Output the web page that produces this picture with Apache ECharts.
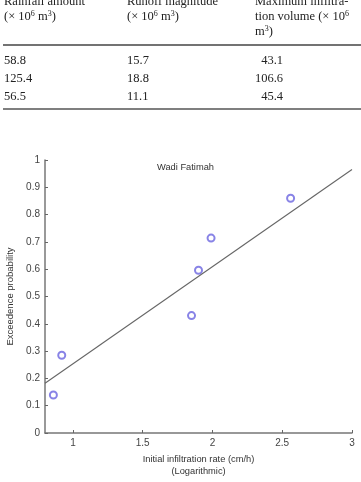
<!DOCTYPE html>
<html>
<head>
<meta charset="utf-8">
<script src="https://cdn.jsdelivr.net/npm/echarts@6/dist/echarts.min.js"></script>
<style>
  html, body { margin: 0; padding: 0; background: #fff; }
  #chart { width: 361px; height: 482px; }
</style>
</head>
<body>
<div id="chart"></div>
<script>
// Table above the chart (top is cropped in the source)
const tableRainfall = ["58.8", "125.4", "56.5"];
const tableRunoff = ["15.7", "18.8", "11.1"];
const tableInfiltration = ["43.1", "106.6", "45.4"];

// Scatter points: initial infiltration rate vs exceedence probability
const infiltrationRate = [0.86, 0.92, 1.85, 1.90, 1.99, 2.56];
const exceedence = [0.139, 0.285, 0.430, 0.596, 0.714, 0.860];

// Fitted line end points
const fitX = [0.8, 3.0];
const fitY = [0.182, 0.965];

const xTicks = [1, 1.5, 2, 2.5, 3];

let chart = echarts.init(document.getElementById("chart"));

const serif = "Liberation Serif";
const rich = {
  n: { fontFamily: serif, fontSize: 12.5, color: "#222" },
  s: { fontFamily: serif, fontSize: 8, color: "#222", verticalAlign: "top", padding: [0, 0, 6, 0] }
};

function tableText(x, y, text, align) {
  return {
    type: "text",
    x: x,
    y: y,
    style: {
      text: text,
      align: align || "left",
      verticalAlign: "middle",
      rich: rich,
      font: "12.5px " + serif,
      fill: "#222"
    }
  };
}

let graphics = [];
// header rows
graphics.push(tableText(4, 2, "{n|Rainfall amount}"));
graphics.push(tableText(127, 2, "{n|Runoff magnitude}"));
graphics.push(tableText(255, 2, "{n|Maximum infiltra-}"));
graphics.push(tableText(4, 17, "{n|(× 10}{s|6}{n| m}{s|3}{n|)}"));
graphics.push(tableText(127, 17, "{n|(× 10}{s|6}{n| m}{s|3}{n|)}"));
graphics.push(tableText(255, 17, "{n|tion volume (× 10}{s|6}"));
graphics.push(tableText(255, 32, "{n|m}{s|3}{n|)}"));
// rules
graphics.push({ type: "line", shape: { x1: 3, y1: 45, x2: 361, y2: 45 }, style: { stroke: "#444", lineWidth: 1.6 } });
graphics.push({ type: "line", shape: { x1: 3, y1: 109, x2: 361, y2: 109 }, style: { stroke: "#555", lineWidth: 1.4 } });
// data rows
for (let i = 0; i < tableRainfall.length; i++) {
  let y = 61 + i * 18;
  graphics.push(tableText(4, y, "{n|" + tableRainfall[i] + "}"));
  graphics.push(tableText(127, y, "{n|" + tableRunoff[i] + "}"));
  graphics.push(tableText(283, y, "{n|" + tableInfiltration[i] + "}", "right"));
}

const axisFont = "Liberation Sans";

let option = {
  animation: false,
  backgroundColor: "#fff",
  title: {
    text: "Wadi Fatimah",
    left: 157,
    top: 163,
    padding: 0,
    textStyle: { fontFamily: axisFont, fontSize: 9.3, fontWeight: "normal", color: "#333" }
  },
  grid: { left: 45, right: 9, top: 160, bottom: 49, outerBoundsMode: "none", containLabel: false },
  xAxis: {
    type: "value",
    min: 0.8,
    max: 3,
    name: "Initial infiltration rate (cm/h)\n(Logarithmic)",
    nameLocation: "middle",
    nameGap: 20,
    nameTextStyle: { fontFamily: axisFont, fontSize: 9.3, color: "#333", lineHeight: 12 },
    axisLine: { lineStyle: { color: "#777", width: 1.5 } },
    axisTick: { inside: true, length: 3, customValues: xTicks, lineStyle: { color: "#666" } },
    axisLabel: {
      customValues: xTicks,
      fontFamily: axisFont, fontSize: 10, color: "#444", margin: 5
    },
    splitLine: { show: false }
  },
  yAxis: {
    type: "value",
    min: 0,
    max: 1,
    interval: 0.1,
    name: "Exceedence probability",
    nameLocation: "middle",
    nameRotate: 90,
    nameGap: 26,
    nameTextStyle: { fontFamily: axisFont, fontSize: 9.5, color: "#333" },
    axisLine: { show: true, lineStyle: { color: "#777", width: 1.5 } },
    axisTick: { show: true, inside: true, length: 3, lineStyle: { color: "#666" } },
    axisLabel: {
      fontFamily: axisFont, fontSize: 10, color: "#444", margin: 5,
      formatter: function (v) { return String(Math.round(v * 10) / 10); }
    },
    splitLine: { show: false }
  },
  series: [
    {
      type: "line",
      data: fitX.map((x, i) => [x, fitY[i]]),
      symbol: "none",
      lineStyle: { color: "#666", width: 1.1 },
      silent: true
    },
    {
      type: "scatter",
      data: infiltrationRate.map((x, i) => [x, exceedence[i]]),
      symbol: "emptyCircle",
      symbolSize: 7,
      itemStyle: { color: "#6a64e0", borderColor: "#6a64e0", borderWidth: 1 }
    }
  ],
  graphic: graphics
};

chart.setOption(option);
</script>
</body>
</html>
